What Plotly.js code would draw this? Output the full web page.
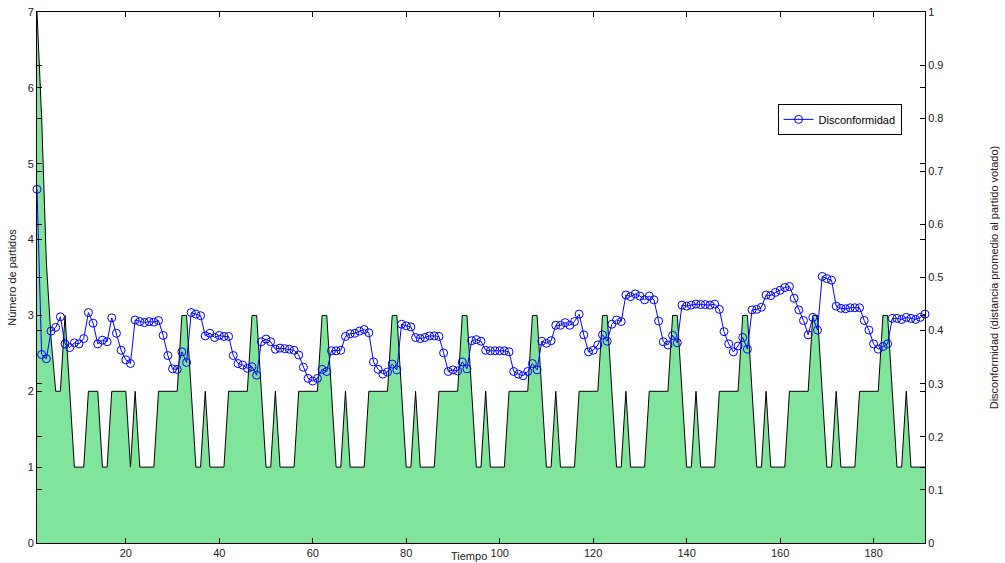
<!DOCTYPE html>
<html>
<head>
<meta charset="utf-8">
<script src="https://cdn.plot.ly/plotly-3.0.1.min.js"></script>
<style>html,body{margin:0;padding:0;background:#fff;}#chart{width:1005px;height:563px;}</style>
</head>
<body>
<div id="chart"></div>
<script>
// Número de partidos (left axis), one value per time step starting at t = 1
const partidos = [
  7, 5.6, 3.7, 2.7, 2, 2, 3, 2, 1, 1,
  1, 2, 2, 2, 1, 1, 2, 2, 2, 2,
  1, 2, 1, 1, 1, 1, 2, 2, 2, 2,
  2,
  3, 3, 2, 1, 1, 2, 1, 1, 1, 1, 2, 2, 2, 2, 2,
  3, 3, 2, 1, 1, 2, 1, 1, 1, 1, 2, 2, 2, 2, 2,
  3, 3, 2, 1, 1, 2, 1, 1, 1, 1, 2, 2, 2, 2, 2,
  3, 3, 2, 1, 1, 2, 1, 1, 1, 1, 2, 2, 2, 2, 2,
  3, 3, 2, 1, 1, 2, 1, 1, 1, 1, 2, 2, 2, 2, 2,
  3, 3, 2, 1, 1, 2, 1, 1, 1, 1, 2, 2, 2, 2, 2,
  3, 3, 2, 1, 1, 2, 1, 1, 1, 1, 2, 2, 2, 2, 2,
  3, 3, 2, 1, 1, 2, 1, 1, 1, 1, 2, 2, 2, 2, 2,
  3, 3, 2, 1, 1, 2, 1, 1, 1, 1, 2, 2, 2, 2, 2,
  3, 3, 2, 1, 1, 2, 1, 1, 1, 1, 2, 2, 2, 2, 2,
  3, 3, 2, 1, 1, 2, 1, 1, 1, 1
];

// Disconformidad (right axis), one value per time step starting at t = 1
const disconformidad = [
  0.666, 0.355, 0.347, 0.399, 0.406, 0.426, 0.375, 0.368, 0.377, 0.375,
  0.385, 0.434, 0.414, 0.375, 0.382, 0.379, 0.424, 0.395, 0.363, 0.345,
  0.338, 0.420, 0.417, 0.415, 0.417, 0.416, 0.419, 0.391, 0.353, 0.328,
  0.327, 0.360, 0.340, 0.434, 0.431, 0.428, 0.390, 0.395, 0.387, 0.391,
  0.389, 0.389, 0.353, 0.338, 0.335, 0.329, 0.332, 0.316, 0.379, 0.384,
  0.379, 0.365, 0.367, 0.366, 0.365, 0.363, 0.354, 0.331, 0.310, 0.305,
  0.310, 0.327, 0.323, 0.362, 0.362, 0.363, 0.389, 0.394, 0.395, 0.399,
  0.402, 0.396, 0.341, 0.327, 0.318, 0.322, 0.337, 0.326, 0.412, 0.409,
  0.407, 0.387, 0.385, 0.387, 0.390, 0.390, 0.389, 0.358, 0.323, 0.326,
  0.324, 0.341, 0.328, 0.381, 0.383, 0.380, 0.363, 0.362, 0.362, 0.362,
  0.362, 0.360, 0.323, 0.318, 0.315, 0.323, 0.338, 0.326, 0.380, 0.376,
  0.381, 0.410, 0.410, 0.415, 0.410, 0.417, 0.431, 0.392, 0.360, 0.363,
  0.373, 0.392, 0.380, 0.412, 0.420, 0.417, 0.467, 0.464, 0.469, 0.465,
  0.458, 0.465, 0.458, 0.418, 0.379, 0.373, 0.391, 0.377, 0.448, 0.446,
  0.448, 0.450, 0.449, 0.449, 0.448, 0.450, 0.440, 0.398, 0.375, 0.360,
  0.371, 0.387, 0.365, 0.439, 0.440, 0.444, 0.467, 0.466, 0.472, 0.476,
  0.481, 0.483, 0.461, 0.439, 0.419, 0.392, 0.425, 0.401, 0.502, 0.498,
  0.495, 0.446, 0.442, 0.441, 0.443, 0.443, 0.443, 0.419, 0.401, 0.375,
  0.365, 0.370, 0.375, 0.423, 0.423, 0.421, 0.425, 0.423, 0.421, 0.425,
  0.431
];

const xTicks = [20, 40, 60, 80, 100, 120, 140, 160, 180];
const yLeftTicks = [0, 1, 2, 3, 4, 5, 6, 7];
const yRightTicks = [0, 0.1, 0.2, 0.3, 0.4, 0.5, 0.6, 0.7, 0.8, 0.9, 1];

const tiempo = partidos.map((_, i) => i + 1);

const FONT = 'Liberation Sans, Arial, sans-serif';

const traces = [
  {
    x: tiempo, y: partidos, type: 'scatter', mode: 'lines',
    fill: 'tozeroy', fillcolor: 'rgb(128,229,155)',
    line: {color: '#000', width: 1},
    showlegend: false, hoverinfo: 'skip', yaxis: 'y'
  },
  {
    x: tiempo, y: disconformidad, type: 'scatter', mode: 'lines+markers',
    name: 'Disconformidad', yaxis: 'y2', cliponaxis: false,
    line: {color: 'rgb(0,0,255)', width: 1},
    marker: {symbol: 'circle-open', size: 8, color: 'rgb(0,0,255)', line: {width: 1, color: 'rgb(0,0,255)'}}
  }
];

const axisCommon = {
  showgrid: false, zeroline: false, showline: true, linecolor: '#000', linewidth: 1,
  ticks: 'inside', ticklen: 5, tickcolor: '#000', tickwidth: 1, mirror: 'ticks',
  tickfont: {family: FONT, size: 11, color: '#222'}
};

const layout = {
  width: 1005, height: 563,
  margin: {l: 37, r: 80, t: 12, b: 20},
  paper_bgcolor: '#fff', plot_bgcolor: '#fff',
  font: {family: FONT, size: 11, color: '#222'},
  xaxis: Object.assign({}, axisCommon, {
    range: [1, 191], tickvals: xTicks, ticktext: xTicks.map(String)
  }),
  yaxis: Object.assign({}, axisCommon, {
    range: [0, 7], tickvals: yLeftTicks,
    title: {text: 'Número de partidos', font: {family: FONT, size: 11, color: '#222'}, standoff: 8}
  }),
  yaxis2: Object.assign({}, axisCommon, {
    range: [0, 1], tickvals: yRightTicks, overlaying: 'y', side: 'right',
    title: {text: 'Disconformidad (distancia promedio al partido votado)', font: {family: FONT, size: 11, color: '#222'}, standoff: 47}
  }),
  showlegend: true,
  legend: {
    x: 0.834, y: 0.827, xanchor: 'left', yanchor: 'top',
    bgcolor: '#fff', bordercolor: '#000', borderwidth: 1,
    font: {family: FONT, size: 11, color: '#000'}
  },
  annotations: [
    {text: 'Tiempo', xref: 'paper', yref: 'paper', x: 0.487, y: -0.025,
     xanchor: 'center', yanchor: 'middle', showarrow: false,
     font: {family: FONT, size: 11, color: '#222'}}
  ]
};

Plotly.newPlot('chart', traces, layout, {displayModeBar: false, staticPlot: true});
</script>
</body>
</html>
